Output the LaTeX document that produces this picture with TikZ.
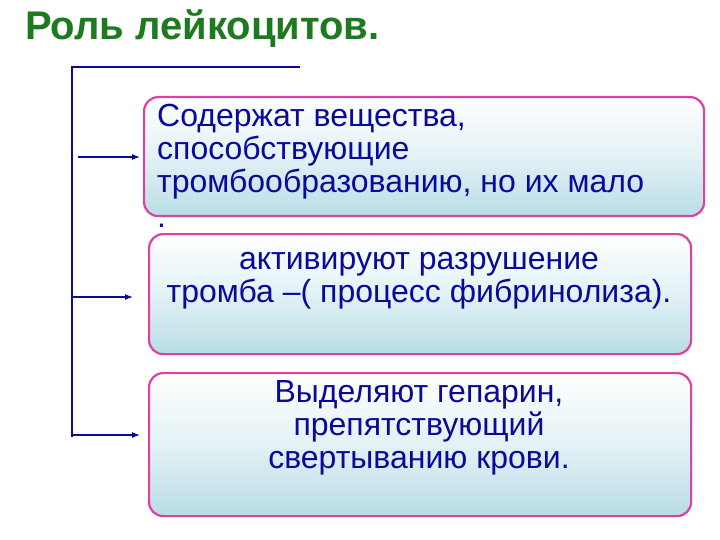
\documentclass[tikz,border=0pt]{standalone}
\usepackage{fontspec}
\setmainfont{Liberation Sans}
\usetikzlibrary{arrows.meta}
\definecolor{navy}{HTML}{0A0A9A}
\definecolor{pinkb}{HTML}{E040A0}
\definecolor{ttl}{HTML}{1E7A1E}
\definecolor{shadeb}{HTML}{B8DDE6}
\tikzset{x=1pt,y=-1pt,
 box/.style={draw=pinkb,line width=2.2pt,rounded corners=14pt,top color=white,bottom color=shadeb,middle color=white!60!shadeb},
 txt/.style={text=navy,font=\fontsize{32}{33}\selectfont,align=center,inner sep=0pt},
 link/.style={navy,line width=1.2pt},
 arr/.style={link,-{Latex[length=8pt,width=6pt]}}}
\begin{document}
\begin{tikzpicture}
\useasboundingbox (0,0) rectangle (720,540);
\node[anchor=west,text=ttl,font=\fontsize{40}{42}\selectfont\bfseries,inner sep=0pt] (title) at (25,29) {Роль лейкоцитов.};
\node[box,minimum width=560,minimum height=119,anchor=north west] (b1) at (143,96) {};
\node[box,minimum width=542,minimum height=120,anchor=north west] (b2) at (148,233) {};
\node[box,minimum width=542,minimum height=143,anchor=north west] (b3) at (148,372) {};
\node[txt,align=left,anchor=north west] (t1) at (157,104) {Содержат вещества,\\способствующие\\тромбообразованию, но их мало};
\node[txt,anchor=west] (dot) at (157,226) {.};
\node[txt] (t2) at (419,281) {активируют разрушение\\тромба –( процесс фибринолиза).};
\node[txt] (t3) at (419,428) {Выделяют гепарин,\\препятствующий\\свертыванию крови.};
\coordinate (top) at (72,67);
\coordinate (topr) at (300,67);
\coordinate (bot) at (72,437);
\coordinate (a1) at (78,157);
\coordinate (e1) at (140,157);
\coordinate (a2) at (72,297);
\coordinate (e2) at (133,297);
\coordinate (a3) at (72,435);
\coordinate (e3) at (140,435);
\draw[link] (topr) -- (top) -- (bot);
\draw[arr] (a1) -- (e1);
\draw[arr] (a2) -- (e2);
\draw[arr] (a3) -- (e3);
\end{tikzpicture}
\end{document}
